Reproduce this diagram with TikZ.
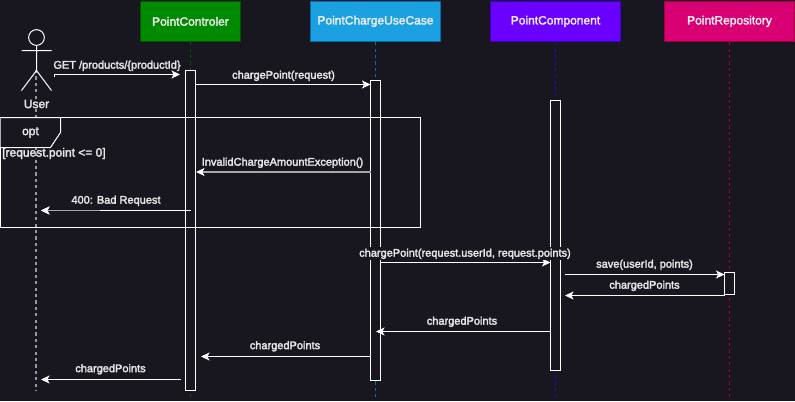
\documentclass[tikz,border=0pt]{standalone}
\usepackage{fontspec}
\setmainfont{Liberation Sans}
\usetikzlibrary{arrows.meta}
\definecolor{bgc}{HTML}{18161F}
\definecolor{txt}{HTML}{E6E6E6}
\definecolor{gf}{HTML}{008A00}\definecolor{gd}{HTML}{005700}
\definecolor{bf}{HTML}{1BA1E2}\definecolor{bd}{HTML}{006EAF}
\definecolor{pf}{HTML}{6A00FF}\definecolor{pd}{HTML}{3700CC}
\definecolor{rf}{HTML}{D80073}\definecolor{rd}{HTML}{A50040}
\newcommand{\strokeon}{\special{pdf:code 2 Tr 0.22 w}}
\tikzset{
  x=0.75pt,y=-0.75pt,
  hd/.style={draw=#1,line width=0.9pt,minimum height=30.4pt,inner sep=0pt,text=white!92!black,font=\fontsize{9}{10}\selectfont,anchor=north,execute at begin node=\strokeon},
  life/.style={draw=#1,line width=0.6pt,dash pattern=on 2.4pt off 2.4pt},
  act/.style={draw=white,line width=0.75pt,fill=bgc},
  msg/.style={draw=white,line width=0.75pt,-{Stealth[length=6.4pt,width=6pt,inset=1.6pt,color=white,fill=white]}},
  dim/.style={draw=white!62!bgc,line width=1.1pt,-{Stealth[length=6.4pt,width=6pt,inset=1.6pt,color=white,fill=white]}},
  lab/.style={text=txt,font=\fontsize{8.25}{10}\selectfont,inner sep=0pt,execute at begin node=\strokeon},
  biglab/.style={text=txt,font=\fontsize{9}{10}\selectfont,inner sep=0pt,execute at begin node=\strokeon},
}
\begin{document}
\begin{tikzpicture}
\useasboundingbox[fill=bgc] (0,0) rectangle (795,401);
% lifeline heads
\node[hd=gd,fill=gf,minimum width=75pt] (ctl) at (190.5,0.5) {PointControler};
\node[hd=bd,fill=bf,minimum width=97.5pt] (uc) at (375.5,0.5) {PointChargeUseCase};
\node[hd=pd,fill=pf,minimum width=97.5pt] (cmp) at (555.5,0.5) {PointComponent};
\node[hd=rd,fill=rf,minimum width=97.5pt] (rep) at (729.5,0.5) {PointRepository};
\coordinate (ctlE) at (190.5,398);
\coordinate (ucE) at (375.5,398);
\coordinate (cmpE) at (555.5,398);
\coordinate (repE) at (729.5,398);
\coordinate (usrS) at (36,70);
\coordinate (usrE) at (36,391);
\draw[life=gd] (ctl.south) -- (ctlE);
\draw[life=bd] (uc.south) -- (ucE);
\draw[life=pd] (cmp.south) -- (cmpE);
\draw[life=rd] (rep.south) -- (repE);
\draw[life=white!55!bgc,line width=1pt] (usrS) -- (usrE);
% actor
\node[draw=white,line width=0.75pt,circle,minimum size=11.8pt,inner sep=0pt] (head) at (36.5,37.5) {};
\coordinate (hip) at (36.5,70.5);
\coordinate (armL) at (21.5,50.5);\coordinate (armR) at (51.5,50.5);
\coordinate (legL) at (21.5,90.5);\coordinate (legR) at (51.5,90.5);
\draw[white,line width=0.75pt] (head.south) -- (hip) (armL) -- (armR) (legL) -- (hip) -- (legR);
\node[biglab,fill=bgc,inner ysep=0.5pt] (usr) at (36.5,104) {User};
% activations
\draw[act] (185.5,70.5) rectangle (195.5,390.5);
\draw[act] (370.5,80.5) rectangle (380.5,380.5);
\draw[act] (550.5,100.5) rectangle (560.5,370.5);
\draw[act] (724.5,272.5) rectangle (734.5,294.5);
% frame
\draw[white,line width=0.75pt] (0.5,117.5) rectangle (420.5,227.5);
\draw[white,line width=0.75pt,fill=bgc] (0.5,117.5) -- (60.5,117.5) -- (60.5,132.5) -- (50.5,147.5) -- (0.5,147.5);
\node[biglab] (opt) at (30.5,132.5) {opt};
\node[biglab,anchor=west] (grd) at (2,153.5) {[request.point <= 0]};
% message end points
\coordinate (m1a) at (54,77);\coordinate (m1b) at (54,74.5);\coordinate (m1c) at (180,74.5);
\coordinate (m2a) at (195.5,84.5);\coordinate (m2b) at (370.5,84.5);
\coordinate (m3a) at (370.5,172);\coordinate (m3b) at (196,172);
\coordinate (m4a) at (190.5,210.5);\coordinate (m4b) at (41,210.5);\coordinate (m4c) at (100,210.5);
\coordinate (m5a) at (380.5,262.5);\coordinate (m5b) at (550.5,262.5);
\coordinate (m6a) at (564.5,274.5);\coordinate (m6b) at (724.5,274.5);
\coordinate (m7a) at (724.5,295.5);\coordinate (m7b) at (565,295.5);
\coordinate (m8a) at (550.5,331.5);\coordinate (m8b) at (376,331.5);
\coordinate (m9a) at (370.5,356.5);\coordinate (m9b) at (201,356.5);
\coordinate (m10a) at (181,379.5);\coordinate (m10b) at (41,379.5);
\draw[msg] (m1a) -- (m1b) -- (m1c);
\draw[msg] (m2a) -- (m2b);
\draw[dim] (m3a) -- (m3b);
\draw[msg] (m4a) -- (m4b);
\draw[dim] (m4c) -- (m4b);
\draw[msg] (m5a) -- (m5b);
\draw[msg] (m6a) -- (m6b);
\draw[msg] (m7a) -- (m7b);
\draw[msg] (m8a) -- (m8b);
\draw[msg] (m9a) -- (m9b);
\draw[msg] (m10a) -- (m10b);
% labels
\node[lab] (l1) at (117,65.8) {GET /products/\{productId\}};
\node[lab] (l2) at (283.5,75.8) {chargePoint(request)};
\node[lab] (l3) at (282.5,162.8) {InvalidChargeAmountException()};
\node[lab] (l4) at (116,200.8) {400: Bad Request};
\node[lab,fill=bgc,inner xsep=0pt,inner ysep=1pt] (l5) at (465,253.8) {chargePoint(request.userId, request.points)};
\node[lab] (l6) at (644.5,264.8) {save(userId, points)};
\node[lab] (l7) at (644.5,285.8) {chargedPoints};
\node[lab] (l8) at (462,321.8) {chargedPoints};
\node[lab] (l9) at (285,346.3) {chargedPoints};
\node[lab] (l10) at (110.5,369.3) {chargedPoints};
\end{tikzpicture}
\end{document}
